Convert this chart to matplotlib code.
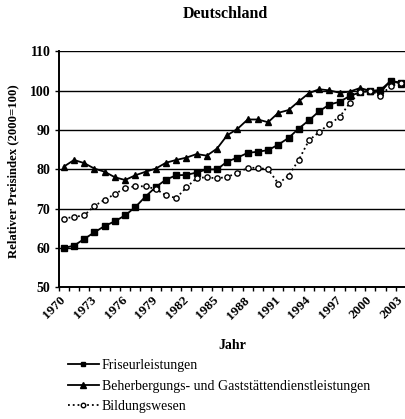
import numpy as np
import matplotlib
matplotlib.use("Agg")
import matplotlib.pyplot as plt
import matplotlib.transforms as mtransforms

# Daten, Preisindex 2000=100
jahre = list(range(1970, 2004))
friseur = [60.0, 60.6, 62.3, 64.0, 65.6, 66.8, 68.3, 70.4, 73.1, 75.5,
           77.4, 78.5, 78.6, 79.2, 80.0, 80.0, 82.0, 83.0, 84.2, 84.5,
           84.9, 86.3, 88.0, 90.4, 92.5, 94.8, 96.5, 97.2, 98.7, 99.6,
           100.0, 100.2, 102.5, 102.1]
beherbergung = [80.7, 82.4, 81.6, 80.2, 79.4, 78.0, 77.3, 78.5, 79.4, 80.2,
                81.7, 82.4, 83.0, 83.9, 83.5, 85.3, 88.7, 90.3, 92.7, 92.7,
                92.0, 94.4, 95.1, 97.3, 99.4, 100.4, 100.1, 99.5, 99.8, 100.7,
                100.0, 99.6, 102.6, 101.8]
bildung = [67.5, 67.9, 68.3, 70.7, 72.3, 73.7, 75.3, 75.7, 75.7, 75.0,
           73.4, 72.7, 75.4, 77.8, 78.0, 77.7, 78.1, 79.1, 80.4, 80.4,
           80.0, 76.4, 78.4, 82.4, 87.4, 89.5, 91.6, 93.3, 96.9, 99.7,
           100.0, 98.8, 101.2, 101.9]
labels = ["Friseurleistungen",
          "Beherbergungs- und Gaststättendienstleistungen",
          "Bildungswesen"]
tick_jahre = list(range(1970, 2004, 3))

serif = "Liberation Serif"

fig = plt.figure(figsize=(4.06, 4.19), dpi=100)
ax = fig.add_axes([58.7 / 406, 1 - 287.3 / 419, 1 - 58.7 / 406, (287.3 - 51.5) / 419])

# Linien
ax.plot(jahre, friseur, color="black", lw=1.3, marker="s", ms=3.8, label=labels[0], clip_on=False, zorder=3)
ax.plot(jahre, beherbergung, color="black", lw=1.3, marker="^", ms=4.3, label=labels[1], clip_on=False, zorder=3)
ax.plot(jahre, bildung, color="black", lw=1.3, ls=":", marker="o", ms=3.8,
        mfc="white", mec="black", mew=1.0, label=labels[2], clip_on=False, zorder=3)

# Achsen
ax.set_xlim(1969.5, 2003.5)
ax.set_ylim(50, 110)
ax.set_yticks(range(50, 111, 10))
ax.yaxis.grid(True, color="black", lw=1.0)
ax.set_axisbelow(True)
ax.set_xticks([])
ax.set_xticks(np.arange(1969.5, 2004, 1.0), minor=True)
ax.tick_params(axis="x", which="minor", length=3, width=1, direction="out", color="black")
ax.tick_params(axis="y", length=3, width=1, direction="out", color="black", pad=3)
for t in ax.get_yticklabels():
    t.set_fontfamily(serif)
    t.set_fontweight("bold")
    t.set_fontsize(10)

# Jahreszahlen schräg, etwas links vom Kategorienpunkt
trans = ax.get_xaxis_transform() + mtransforms.ScaledTranslation(-3 / 72, -5 / 72, fig.dpi_scale_trans)
for j in tick_jahre:
    ax.text(j, 0, str(j), transform=trans, rotation=45, ha="right", va="top",
            rotation_mode="anchor", fontfamily=serif, fontweight="bold", fontsize=9.5)

for s in ["top", "right"]:
    ax.spines[s].set_visible(False)
for s in ["left", "bottom"]:
    ax.spines[s].set_linewidth(1.4)
    ax.spines[s].set_color("black")

# y-Beschriftung als Figurentext, damit sie genau sitzt
fig.text(13 / 406, 1 - 171 / 419, "Relativer Preisindex (2000=100)", rotation=90,
         ha="center", va="center", fontfamily=serif, fontweight="bold", fontsize=9.2)
fig.text(232 / 406, 1 - 345 / 419, "Jahr", ha="center", va="center",
         fontfamily=serif, fontweight="bold", fontsize=10)

# Titel
fig.text(225 / 406, 1 - 14 / 419, "Deutschland", ha="center", va="center",
         fontfamily=serif, fontweight="bold", fontsize=11.5)

# Legende
fig.legend(loc="upper left", bbox_to_anchor=(68 / 406, 1 - 359 / 419), frameon=False,
           prop={"family": serif, "size": 10}, handlelength=2.2, handletextpad=0.25,
           labelspacing=0.55, borderpad=0, borderaxespad=0, markerscale=0.85)

plt.savefig("out.png", dpi=100)
